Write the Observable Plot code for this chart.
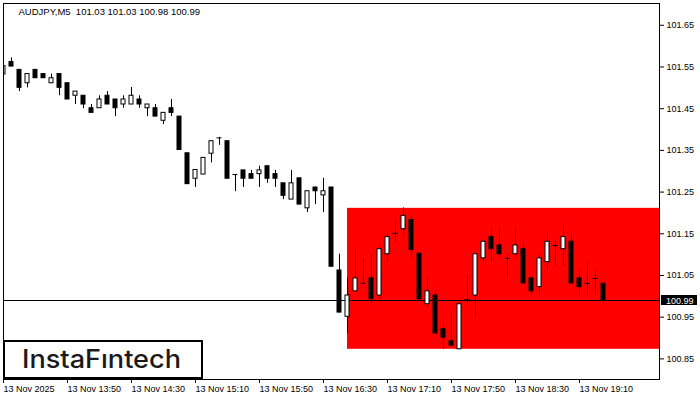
<!DOCTYPE html>
<html><head><meta charset="utf-8">
<script src="https://cdn.jsdelivr.net/npm/d3@7"></script>
<script src="https://cdn.jsdelivr.net/npm/@observablehq/plot@0.6"></script>
<style>body{margin:0;background:#fff} svg{display:block}</style>
</head><body><div id="chart"></div>
<script>
const symbol = "AUDJPY,M5";
const opens = [101.532,101.562,101.543,101.511,101.543,101.533,101.511,101.533,101.511,101.481,
101.481,101.451,101.451,101.481,101.472,101.460,101.460,101.472,101.451,101.451,
101.421,101.451,101.431,101.343,101.282,101.292,101.342,101.380,101.372,101.292,
101.302,101.293,101.293,101.312,101.293,101.271,101.232,101.283,101.211,101.261,
101.242,101.261,101.062,100.951,101.012,101.031,101.043,101.002,101.101,101.151,
101.161,101.183,101.102,100.981,101.002,100.921,100.892,100.873,100.992,101.002,
101.091,101.142,101.122,101.091,101.101,101.113,101.043,101.022,101.082,101.122,
101.113,101.131,101.043,101.031,101.043,101.030];
const highs = [101.561,101.572,101.543,101.533,101.543,101.533,101.533,101.533,101.511,101.491,
101.481,101.460,101.481,101.491,101.472,101.481,101.501,101.481,101.460,101.460,
101.440,101.472,101.431,101.343,101.303,101.332,101.372,101.381,101.372,101.292,
101.302,101.302,101.312,101.312,101.302,101.271,101.302,101.283,101.252,101.261,
101.283,101.261,101.101,101.043,101.113,101.091,101.102,101.122,101.151,101.183,
101.212,101.193,101.102,101.043,101.012,100.933,100.962,100.981,101.053,101.101,
101.131,101.161,101.161,101.101,101.161,101.131,101.043,101.101,101.151,101.131,
101.174,101.151,101.063,101.082,101.063,101.030];
const lows = [101.530,101.551,101.491,101.500,101.523,101.523,101.511,101.481,101.472,101.460,
101.450,101.440,101.451,101.460,101.431,101.451,101.460,101.451,101.431,101.431,
101.412,101.431,101.351,101.269,101.261,101.292,101.320,101.362,101.282,101.251,
101.261,101.282,101.261,101.271,101.261,101.232,101.232,101.220,101.201,101.220,
101.201,101.071,100.961,100.911,101.012,101.029,100.979,100.993,101.081,101.131,
101.142,101.091,100.993,100.971,100.911,100.873,100.882,100.873,100.981,100.951,
101.081,101.081,101.091,101.043,101.091,101.031,101.002,101.002,101.062,101.071,
101.071,101.031,101.002,101.002,101.002,100.980];
const closes = [101.552,101.551,101.500,101.533,101.523,101.523,101.523,101.500,101.472,101.491,
101.460,101.440,101.472,101.460,101.451,101.472,101.481,101.460,101.460,101.431,
101.440,101.440,101.351,101.269,101.303,101.332,101.372,101.380,101.282,101.292,
101.282,101.282,101.302,101.282,101.282,101.241,101.271,101.220,101.252,101.252,
101.252,101.071,100.961,101.002,101.043,101.031,100.993,101.113,101.142,101.151,
101.193,101.111,100.993,101.012,100.911,100.901,100.882,100.981,100.992,101.101,
101.131,101.113,101.101,101.091,101.122,101.031,101.012,101.091,101.131,101.122,
101.142,101.031,101.022,101.031,101.043,100.990];
const xTickIndex = [0, 8, 16, 24, 32, 40, 48, 56, 64, 72];
const xTickLabels = ["13 Nov 2025","13 Nov 13:50","13 Nov 14:30","13 Nov 15:10","13 Nov 15:50",
  "13 Nov 16:30","13 Nov 17:10","13 Nov 17:50","13 Nov 18:30","13 Nov 19:10"];
const yTicks = [100.85, 100.95, 101.05, 101.15, 101.25, 101.35, 101.45, 101.55, 101.65];
const zoneStart = [43];
const zoneLow = [100.873];
const zoneHigh = [101.211];
const lastPrice = 100.99;
const xDomain = [0, 82];
const yDomain = [100.80055, 101.70223];
const logoText = "InstaF\u0131ntech";

const candles = opens.map((o, i) => ({i, o, h: highs[i], l: lows[i], c: closes[i]}));
const up = candles.filter(d => d.c > d.o);
const down = candles.filter(d => d.c < d.o);
const doji = candles.filter(d => d.c === d.o);
const zone = zoneStart.map((s, k) => ({s, e: xDomain[1], lo: zoneLow[k], hi: zoneHigh[k]}));
const last = candles[candles.length - 1];
const header = symbol + "\u00a0\u00a0" + [last.o, last.h, last.l, last.c].map(v => v.toFixed(2)).join(" ");

const font = "'Liberation Sans', Arial, sans-serif";

const chart = Plot.plot({
  width: 700, height: 400,
  marginLeft: 3, marginRight: 41, marginTop: 3, marginBottom: 21,
  style: {fontFamily: font, fontSize: "9px", color: "black", background: "white"},
  x: {domain: xDomain},
  y: {domain: yDomain},
  marks: [
    Plot.rect(zone, {x1: "s", x2: "e", y1: "lo", y2: "hi", fill: "#ff0000"}),
    Plot.ruleY([lastPrice], {stroke: "black"}),
    Plot.ruleX(candles, {x: "i", y1: "l", y2: "h", stroke: "black", clip: true}),
    Plot.rect(down, {x1: d => d.i - 0.25, x2: d => d.i + 0.25, y1: "o", y2: "c", fill: "black", stroke: "black", clip: true}),
    Plot.rect(up, {x1: d => d.i - 0.25, x2: d => d.i + 0.25, y1: "o", y2: "c", fill: "white", stroke: "black", clip: true}),
    Plot.ruleY(doji, {y: "o", x1: d => d.i - 0.31, x2: d => d.i + 0.31, stroke: "black", clip: true}),
    Plot.axisX(xTickIndex, {anchor: "bottom", tickSize: 4, tickPadding: 2,
      tickFormat: d => xTickLabels[xTickIndex.indexOf(d)], textAnchor: "start", fill: "black"}),
    Plot.axisY(yTicks, {anchor: "right", tickSize: 4, tickPadding: 3, tickFormat: d => d.toFixed(2), fill: "black"}),
    Plot.frame({stroke: "black"}),
    Plot.text([header], {frameAnchor: "top-left", dx: 15, dy: 5, lineAnchor: "top", text: d => d, fill: "black", fontSize: 9.5}),
    (index, scales, values, dims) => {
      const g = d3.create("svg:g");
      const y = Math.round(scales.y(lastPrice));
      const x0 = dims.width - dims.marginRight;
      g.append("rect").attr("x", x0 + 2).attr("y", y - 5).attr("width", 36).attr("height", 10).attr("fill", "black");
      g.append("text").attr("x", x0 + 7).attr("y", y + 3.5).attr("fill", "white").attr("text-anchor", "start")
        .attr("font-size", 9).attr("font-family", font).text(lastPrice.toFixed(2));
      const bx = dims.marginLeft, by = dims.height - dims.marginBottom;
      g.append("rect").attr("x", bx + 1).attr("y", by - 38).attr("width", 198).attr("height", 37)
        .attr("fill", "white").attr("stroke", "black").attr("stroke-width", 2);
      g.append("text").attr("x", bx + 19).attr("y", by - 11).attr("fill", "#1a1a1a").attr("text-anchor", "start")
        .attr("font-size", 25).attr("font-weight", 500).attr("font-family", "Inter, 'Noto Sans', sans-serif")
        .attr("textLength", 159).attr("lengthAdjust", "spacingAndGlyphs").text(logoText);
      return g.node();
    }
  ]
});
document.getElementById("chart").appendChild(chart);
</script>
</body></html>
